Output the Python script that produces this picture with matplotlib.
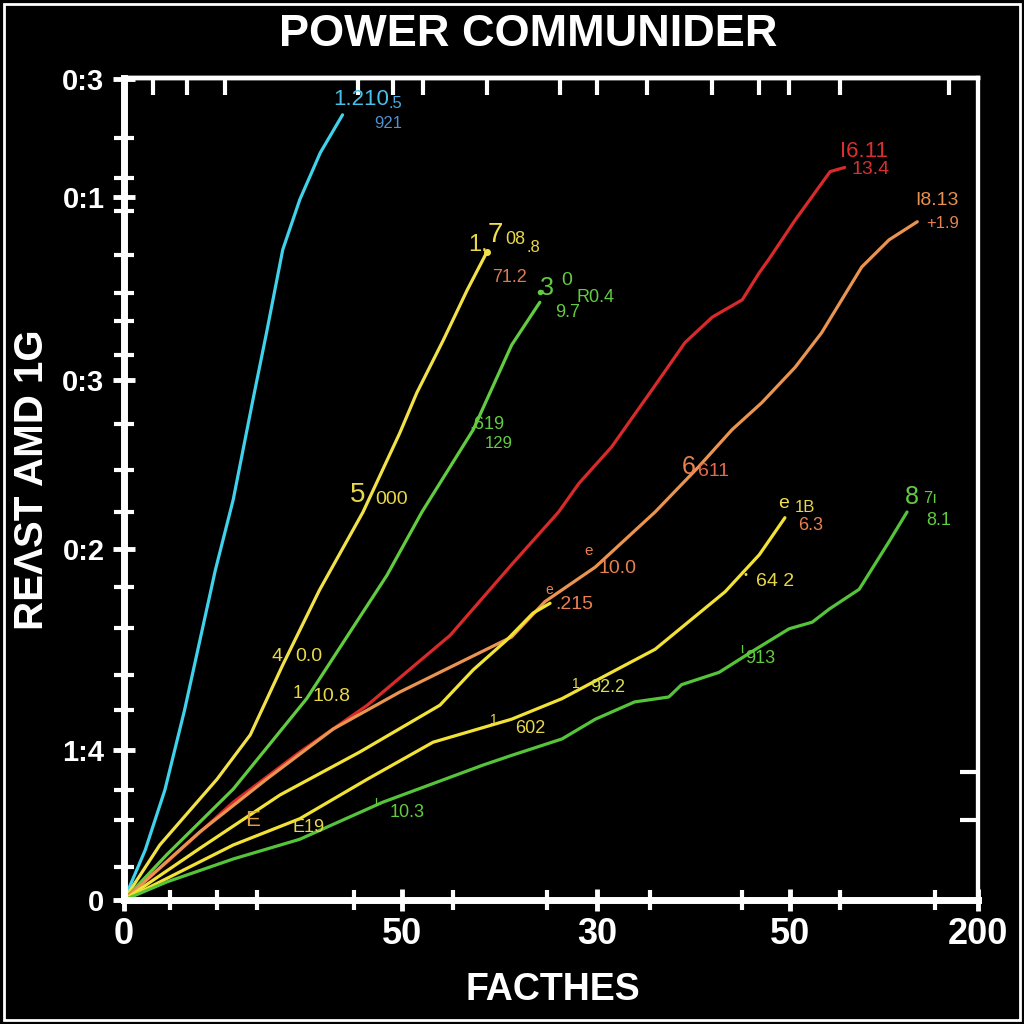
import numpy as np
import matplotlib.pyplot as plt
from matplotlib.patches import Rectangle

plt.rcParams['font.family'] = ['Liberation Sans', 'DejaVu Sans']

# series values (x, y), axis units 0-100
cyan_x = [0, 2.5, 4.8, 7.1, 8.9, 10.7, 12.8, 15.1, 16.7, 18.6, 20.6, 23.0, 25.6]
cyan_y = [0, 6.1, 13.4, 23.1, 31.6, 40.1, 48.7, 60.8, 69.0, 79.1, 85.2, 90.9, 95.5]

yellow1_x = [0, 4.2, 10.9, 14.8, 18.6, 22.9, 28.0, 32.3, 34.3, 37.4, 40.2, 42.5]
yellow1_y = [0, 6.7, 14.7, 20.1, 28.6, 37.7, 47.2, 56.8, 61.7, 68.1, 74.2, 78.8]

green1_x = [0, 5.0, 12.8, 21.4, 30.8, 34.9, 40.9, 45.4, 48.7]
green1_y = [0, 5.5, 13.5, 24.5, 39.5, 47.2, 57.2, 67.5, 72.7]

red_x = [0, 5.0, 12.8, 20.6, 28.5, 38.2, 45.4, 50.9, 53.3, 57.1, 61.8, 65.7,
         68.9, 72.4, 74.4, 75.5, 78.6, 82.7, 84.4]
red_y = [0, 4.6, 11.9, 18.0, 23.7, 32.2, 40.8, 47.2, 50.7, 55.1, 62.0, 67.8,
         70.9, 73.0, 76.3, 77.9, 82.7, 88.6, 89.1]

orange_x = [0, 8.9, 16.7, 24.5, 32.3, 45.4, 49.3, 55.2, 62.2, 67.3, 71.2,
            74.7, 78.6, 81.7, 86.4, 89.6, 92.9]
orange_y = [0, 8.3, 14.7, 20.8, 25.3, 32.0, 36.3, 40.5, 47.2, 52.7, 57.2,
            60.5, 64.8, 69.0, 77.0, 80.3, 82.5]

yellow2_x = [0, 8.9, 18.3, 27.6, 37.0, 40.9, 44.8, 47.9, 49.9]
yellow2_y = [0, 6.3, 12.8, 18.0, 23.7, 28.0, 31.6, 34.9, 36.1]

yellow3_x = [0, 12.8, 20.6, 28.5, 36.2, 45.4, 51.3, 57.1, 62.2, 70.4, 74.4, 77.4]
yellow3_y = [0, 6.7, 9.9, 14.7, 19.2, 22.0, 24.5, 27.7, 30.5, 37.5, 42.0, 46.5]

green2_x = [0, 5.0, 12.8, 20.6, 30.3, 42.0, 45.4, 51.3, 55.2, 59.8, 63.8, 65.3,
            69.7, 73.5, 77.9, 80.6, 82.6, 86.1, 89.6, 91.7]
green2_y = [0, 2.2, 5.0, 7.4, 11.9, 16.4, 17.6, 19.6, 22.0, 24.1, 24.7, 26.2,
            27.7, 30.2, 33.0, 33.8, 35.4, 37.8, 43.6, 47.2]

# tick labels as printed
xtick_pos = [0, 32.6, 55.4, 78.0, 100]
xtick_lab = ['0', '50', '30', '50', '200']
ytick_pos = [0, 18.2, 42.7, 63.3, 85.5, 99.8]
ytick_lab = ['0', '1:4', '0:2', '0:3', '0:1', '0:3']
xminor = [5.4, 10.9, 15.6, 27.0, 38.5, 49.5, 61.6, 72.4, 83.8, 95.0]
yminor = [4.0, 9.7, 13.4, 23.1, 27.4, 33.1, 38.1, 47.2, 52.3, 57.9, 66.3,
          70.4, 73.8, 78.5, 83.8, 87.8, 92.7]
top_ticks = [3.4, 7.4, 11.8, 27.4, 31.5, 35.0, 42.5, 51.1, 55.4, 61.2, 68.9,
             74.4, 77.9, 83.8, 96.6]
right_ticks = [9.7, 15.6]

fig = plt.figure(figsize=(10.24, 10.24), dpi=100, facecolor='black')
fig.patches.append(Rectangle((0.004, 0.004), 0.992, 0.992, transform=fig.transFigure,
                             fill=False, edgecolor='white', linewidth=2))
ax = fig.add_axes([0.121, 0.121, 0.834, 0.803])
ax.set_facecolor('black')

lines = [
    (cyan_x, cyan_y, '#3fd2ea'),
    (yellow1_x, yellow1_y, '#f2e24a'),
    (green1_x, green1_y, '#62cc40'),
    (red_x, red_y, '#d82a2a'),
    (orange_x, orange_y, '#eb9450'),
    (yellow2_x, yellow2_y, '#f2e436'),
    (yellow3_x, yellow3_y, '#f2e236'),
    (green2_x, green2_y, '#56c43a'),
]
for xs, ys, c in lines:
    ax.plot(xs, ys, color=c, lw=2.3, solid_capstyle='round', solid_joinstyle='round')
ax.plot(yellow1_x[-1], yellow1_y[-1], 'o', color='#f2e24a', ms=4)
ax.plot(green1_x[-1], green1_y[-1] + 1.2, 'o', color='#62cc40', ms=3)

ax.set_xlim(0, 100)
ax.set_ylim(0, 100)

for side, lw in [('left', 5), ('bottom', 5), ('top', 3.2), ('right', 3)]:
    ax.spines[side].set_color('white')
    ax.spines[side].set_linewidth(lw)

ax.set_xticks(xtick_pos)
ax.set_xticklabels(xtick_lab)
ax.set_yticks(ytick_pos)
ax.set_yticklabels(ytick_lab)
ax.set_xticks(xminor, minor=True)
ax.set_yticks(yminor, minor=True)
ax.tick_params(axis='both', which='major', direction='inout', length=16, width=3.5,
               colors='white', labelsize=21, pad=6)
ax.tick_params(axis='both', which='minor', direction='inout', length=14, width=3,
               colors='white')
ax.tick_params(axis='x', which='major', labelsize=26, pad=4)
for lab in ax.get_xticklabels() + ax.get_yticklabels():
    lab.set_fontweight('bold')

top = ax.secondary_xaxis('top')
top.set_xticks(top_ticks)
top.set_xticklabels([])
top.tick_params(direction='in', length=12, width=3, colors='white')
top.spines['top'].set_color('white')
top.spines['top'].set_linewidth(3.2)

right = ax.secondary_yaxis('right')
right.set_yticks(right_ticks)
right.set_yticklabels([])
right.tick_params(direction='in', length=13, width=3, colors='white')
right.spines['right'].set_color('white')
right.spines['right'].set_linewidth(3)

# scattered value labels
notes = [
    ('1.210', 24.5, 97.4, '#48c0e8', 16), ('.5', 31.0, 96.9, '#48a8e0', 12),
    ('921', 29.3, 94.4, '#5090d0', 12),
    ('1.', 40.3, 79.7, '#e8d848', 17), ('7', 42.6, 80.9, '#f0e050', 20),
    ('08', 44.6, 80.3, '#e8d848', 13), ('.8', 47.2, 79.4, '#e8d848', 12),
    ('71.2', 43.1, 75.7, '#e07a50', 13),
    ('3', 48.7, 74.5, '#62cc40', 18), ('0', 51.2, 75.4, '#62cc40', 14),
    ('R0.4', 53.0, 73.3, '#62cc40', 13), ('9.7', 50.5, 71.5, '#62cc40', 13),
    ('.619', 40.5, 57.8, '#62cc40', 13), ('129', 42.3, 55.5, '#62cc40', 12),
    ('5', 26.5, 49.3, '#e8d848', 20), ('000', 29.4, 48.7, '#e8d848', 14),
    ('4', 17.3, 29.6, '#e8d848', 14), ('0.0', 20.1, 29.6, '#e8d848', 14),
    ('1', 19.7, 25.1, '#e8d848', 13), ('10.8', 22.1, 24.7, '#e8d848', 14),
    ('E', 14.2, 9.7, '#e0a040', 16), ('E19', 19.8, 8.8, '#e8d848', 13),
    ('ι', 29.3, 11.9, '#62cc40', 10), ('10.3', 31.1, 10.7, '#62cc40', 13),
    ('1', 42.9, 21.9, '#e8d848', 10), ('602', 45.8, 20.9, '#e8d848', 13),
    ('1', 52.5, 26.3, '#e8d848', 10), ('92.2', 54.6, 25.8, '#d8e050', 13),
    ('ι', 72.1, 30.5, '#62cc40', 10), ('913', 72.7, 29.4, '#62cc40', 13),
    ('64 2', 74.0, 38.7, '#e8d848', 14), ('•', 72.5, 39.5, '#e8d848', 8),
    ('e', 76.6, 48.2, '#f0e050', 14), ('1B', 78.6, 47.8, '#e8d848', 12),
    ('6.3', 78.9, 45.6, '#e88050', 13),
    ('8', 91.5, 49.0, '#62cc40', 18), ('7ı', 93.6, 48.9, '#62cc40', 12),
    ('8.1', 94.0, 46.2, '#62cc40', 13),
    ('I6.11', 83.8, 91.0, '#d83030', 16), ('13.4', 85.2, 88.8, '#d83030', 14),
    ('I8.13', 92.7, 85.1, '#e89050', 14), ('+1.9', 94.0, 82.3, '#e88050', 12),
    ('6', 65.3, 52.7, '#e88050', 18), ('611', 67.2, 52.1, '#e06a50', 14),
    ('e', 53.9, 42.4, '#e88050', 11), ('10.0', 55.6, 40.3, '#e88050', 14),
    ('e', 49.3, 37.7, '#e88050', 10), ('.215', 50.5, 36.0, '#e88050', 14),
]
for txt, x, y, c, s in notes:
    ax.text(x, y, txt, color=c, fontsize=s, ha='left', va='center')

fig.text(528 / 1024, 1 - 35 / 1024, 'POWER COMMUNIDER', color='white', fontsize=32.5,
         fontweight='bold', ha='center', va='center')
fig.text(32 / 1024, 1 - 480 / 1024, 'REΛST AMD 1G', color='white', fontsize=29,
         fontweight='bold', ha='center', va='center', rotation=90)
fig.text(553 / 1024, 1 - 990 / 1024, 'FACTHES', color='white', fontsize=27,
         fontweight='bold', ha='center', va='center')

fig.savefig('out.png', dpi=100, facecolor='black')
